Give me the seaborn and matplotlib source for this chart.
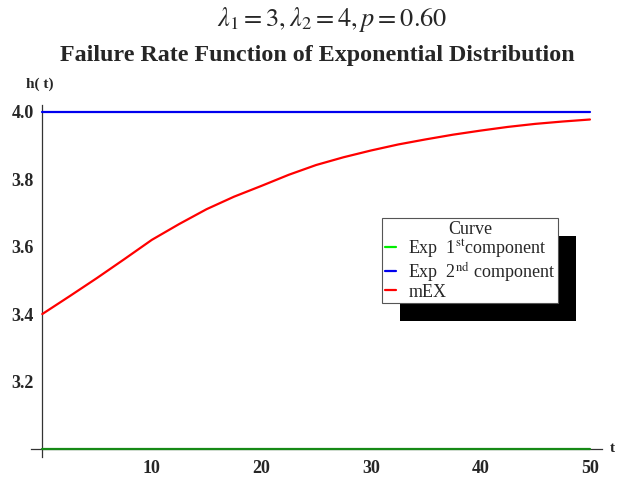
import numpy as np
import pandas as pd
import matplotlib
matplotlib.use('Agg')
import matplotlib.pyplot as plt
import seaborn as sns
from matplotlib.lines import Line2D
from matplotlib.patches import Rectangle
from matplotlib.transforms import IdentityTransform
from matplotlib.ticker import MultipleLocator

sns.set_style('white')
plt.rcParams['font.family'] = ['Liberation Serif', 'DejaVu Serif']
plt.rcParams['mathtext.fontset'] = 'stix'

# values
t_vals = [0, 2.5, 5, 7.5, 10, 12.5, 15, 17.5, 20, 22.5, 25,
          27.5, 30, 32.5, 35, 37.5, 40, 42.5, 45, 47.5, 50]
mex_rate = [3.400, 3.453, 3.507, 3.563, 3.620, 3.667, 3.711, 3.748, 3.780, 3.813, 3.842,
            3.865, 3.885, 3.903, 3.918, 3.932, 3.944, 3.955, 3.964, 3.971, 3.977]
exp1_rate = 3.0
exp2_rate = 4.0

series_names = [r'Exp  1$^{\mathrm{st}}$component', r'Exp  2$^{\mathrm{nd}}$ component', 'mEX']
line_colors = ['#168a16', '#0000ee', '#ff0000']
legend_colors = ['#00ee00', '#0000ee', '#ff0000']

df = pd.concat([
    pd.DataFrame({'t': t_vals, 'h': [exp1_rate] * len(t_vals), 'curve': series_names[0]}),
    pd.DataFrame({'t': t_vals, 'h': [exp2_rate] * len(t_vals), 'curve': series_names[1]}),
    pd.DataFrame({'t': t_vals, 'h': mex_rate, 'curve': series_names[2]}),
], ignore_index=True)

fig = plt.figure(figsize=(6.2, 4.78), dpi=100)
ax = fig.add_axes([31 / 620, 21 / 478, 571 / 620, 352 / 478])

sns.lineplot(data=df, x='t', y='h', hue='curve', palette=dict(zip(series_names, line_colors)),
             linewidth=1.6, ax=ax, legend=False, zorder=5)
for ln in ax.lines:
    ln.set_clip_on(False)

ax.set_xlim(-1.03, 51.1)
ax.set_ylim(2.976, 4.02)
ax.spines['left'].set_position(('data', 0))
ax.spines['bottom'].set_position(('data', 3.0))
ax.spines['top'].set_visible(False)
ax.spines['right'].set_visible(False)
for s in ['left', 'bottom']:
    ax.spines[s].set_color('#333333')
    ax.spines[s].set_linewidth(0.9)

ax.xaxis.set_minor_locator(MultipleLocator(2))
ax.yaxis.set_minor_locator(MultipleLocator(0.05))
ax.set_xticks([10, 20, 30, 40, 50])
ax.set_yticks([3.2, 3.4, 3.6, 3.8, 4.0])
ax.set_xticklabels(['10', '20', '30', '40', '50'])
ax.set_yticklabels(['3.2', '3.4', '3.6', '3.8', '4.0'])
ax.tick_params(which='major', direction='inout', length=6, width=0.8, color='#333333',
               labelsize=13, pad=3)
ax.tick_params(axis='x', which='major', pad=5)
ax.tick_params(which='minor', direction='in', length=3, width=0.6, color='#333333')
for lab in ax.get_xticklabels() + ax.get_yticklabels():
    lab.set_fontweight('bold')
ax.set_xlabel('')
ax.set_ylabel('')
ax.grid(False)

fig.text(332 / 620, 1 - 20 / 478, r'$\lambda_1=3,\lambda_2=4,p=0.60$', fontsize=19,
         ha='center', va='center')
fig.text(317 / 620, 1 - 55 / 478, 'Failure Rate Function of Exponential Distribution',
         fontsize=17.3, fontweight='bold', ha='center', va='center')
fig.text(40 / 620, 1 - 84 / 478, 'h( t)', fontsize=11, fontweight='bold', ha='center', va='center')
fig.text(610 / 620, 1 - 449 / 478, 't', fontsize=11, fontweight='bold', ha='left', va='center')

handles = [Line2D([0], [0], color=c, lw=1.6) for c in legend_colors]
leg = ax.legend(handles, series_names, title='Curve', loc='upper left',
                bbox_to_anchor=(382 / 620, 1 - 218 / 478), bbox_transform=fig.transFigure,
                fancybox=False, framealpha=1, edgecolor='#555555', fontsize=13,
                title_fontsize=13, handlelength=0.6, handletextpad=0.7,
                borderpad=0.15, labelspacing=0.0, borderaxespad=0)
leg.get_frame().set_linewidth(0.8)
leg.set_zorder(25)

# black drop shadow behind the legend box
fig.canvas.draw()
bb = leg.get_window_extent()
shadow = Rectangle((bb.x0 + 18, bb.y0 - 18), bb.width, bb.height, transform=IdentityTransform(),
                   facecolor='black', edgecolor='none', zorder=24, clip_on=False)
ax.add_artist(shadow)

fig.savefig('out.png', dpi=100)
